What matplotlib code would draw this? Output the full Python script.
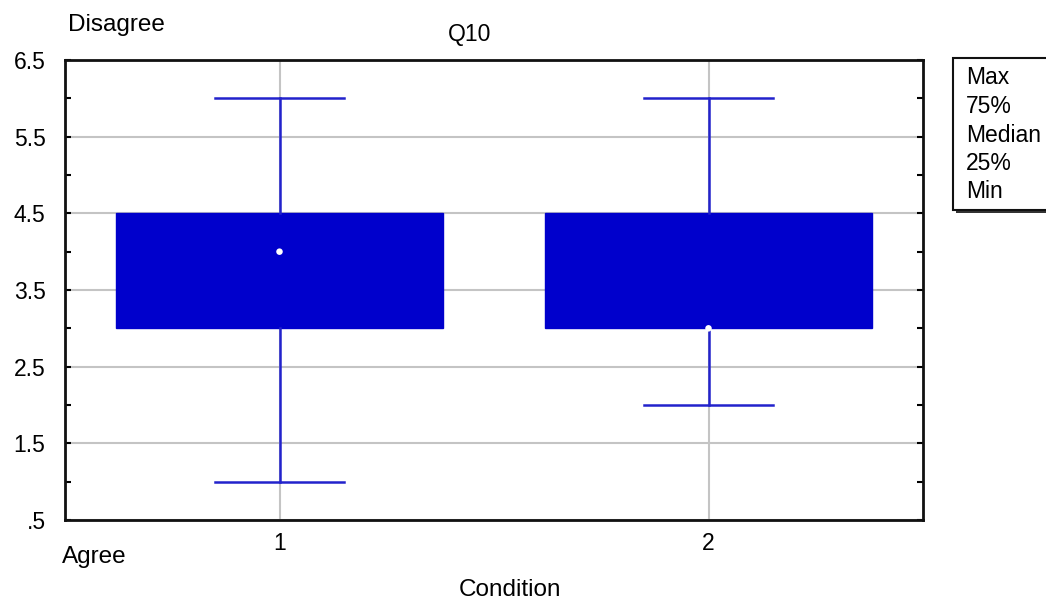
import matplotlib
matplotlib.use("Agg")
import matplotlib.pyplot as plt
from matplotlib.patches import Rectangle
from matplotlib.ticker import MultipleLocator

plt.rcParams['font.family'] = ['Liberation Sans', 'DejaVu Sans']

# data
conditions = [1, 2]
mins = [1.0, 2.0]
q1s = [3.0, 3.0]
medians = [4.0, 3.0]
q3s = [4.5, 4.5]
maxs = [6.0, 6.0]
ytick_vals = [0.5, 1.5, 2.5, 3.5, 4.5, 5.5, 6.5]
ytick_labels = ['.5', '1.5', '2.5', '3.5', '4.5', '5.5', '6.5']
legend_items = ['Max', '75%', 'Median', '25%', 'Min']

W, H = 1046, 603
fig = plt.figure(figsize=(W / 100, H / 100), dpi=100)
ax = fig.add_axes([65 / W, 1 - 520 / H, (923 - 65) / W, (520 - 60) / H])

box_col = '#0000CC'
line_col = '#2222CC'

stats = []
for i in range(len(conditions)):
    stats.append(dict(med=medians[i], q1=q1s[i], q3=q3s[i],
                      whislo=mins[i], whishi=maxs[i], fliers=[]))

ax.bxp(stats, positions=conditions, widths=0.76, patch_artist=True,
       showfliers=False,
       boxprops=dict(facecolor=box_col, edgecolor=box_col, linewidth=1),
       medianprops=dict(color=box_col, linewidth=0),
       whiskerprops=dict(color=line_col, linewidth=1.8),
       capprops=dict(color=line_col, linewidth=1.8),
       capwidths=0.30, zorder=3)
ax.scatter(conditions, medians, s=22, color='white', zorder=5, edgecolors='none')

ax.set_xlim(0.5, 2.5)
ax.set_ylim(0.5, 6.5)
ax.set_xticks(conditions)
ax.set_xticklabels([str(c) for c in conditions], fontsize=16.5)
ax.set_yticks(ytick_vals)
ax.set_yticklabels(ytick_labels, fontsize=16.5)
ax.yaxis.set_minor_locator(MultipleLocator(0.5))
ax.tick_params(axis='y', which='both', direction='in', length=4, width=1.5,
               right=True, pad=14)
ax.tick_params(axis='x', length=0, pad=9)
ax.grid(True, color='#C4C4C4', linewidth=1.5, zorder=0)
ax.set_axisbelow(True)
for s in ax.spines.values():
    s.set_linewidth(2)
    s.set_color('#111111')

fig.text(68 / W, 1 - 25 / H, 'Disagree', fontsize=17.5, va='center', ha='left')
fig.text(470 / W, 1 - 35 / H, 'Q10', fontsize=16.5, va='center', ha='center')
fig.text(62 / W, 1 - 557 / H, 'Agree', fontsize=17.5, va='center', ha='left')
fig.text(510 / W, 1 - 590 / H, 'Condition', fontsize=17.5, va='center', ha='center')

# legend box with shadow
lx, ly, lw, lh = 953, 58, 100, 152
fig.patches.append(Rectangle(((lx + 3) / W, 1 - (ly + lh + 3) / H), lw / W, lh / H,
                             transform=fig.transFigure, facecolor='#333333',
                             edgecolor='none', zorder=1))
fig.patches.append(Rectangle((lx / W, 1 - (ly + lh) / H), lw / W, lh / H,
                             transform=fig.transFigure, facecolor='white',
                             edgecolor='#111111', linewidth=1.5, zorder=2))
for k, lab in enumerate(legend_items):
    fig.text(966 / W, 1 - (78 + k * 28.5) / H, lab, fontsize=16.5,
             va='center', ha='left', zorder=3)

fig.savefig('out.png', dpi=100)
